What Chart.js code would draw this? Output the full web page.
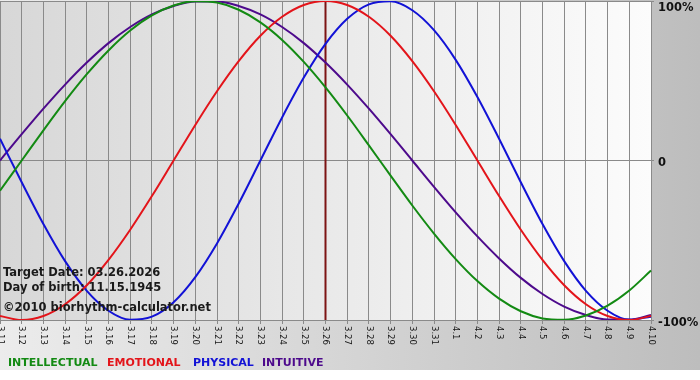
<!DOCTYPE html>
<html>
<head>
<meta charset="utf-8">
<script src="https://cdn.jsdelivr.net/npm/chart.js@4.4.1/dist/chart.umd.min.js"></script>
<style>
  html, body { margin: 0; padding: 0; background: #ffffff; }
  canvas { display: block; }
</style>
</head>
<body>
<canvas id="c" width="700" height="380"></canvas>
<script>
// ---- data ----
const labels = ['3.11','3.12','3.13','3.14','3.15','3.16','3.17','3.18','3.19','3.20',
                '3.21','3.22','3.23','3.24','3.25','3.26','3.27','3.28','3.29','3.30',
                '3.31','4.1','4.2','4.3','4.4','4.5','4.6','4.7','4.8','4.9','4.10'];
const intellectual = [-18.9,0,18.9,37.2,54.1,69.0,81.5,91.0,97.2,99.9,99.0,94.5,86.6,75.6,61.8,45.8,28.2,9.5,
                      -9.5,-28.2,-45.8,-61.8,-75.6,-86.6,-94.5,-99.0,-99.9,-97.2,-91.0,-81.5,-69.0];
const emotional    = [-97.5,-100,-97.5,-90.1,-78.2,-62.3,-43.4,-22.3,0,22.3,43.4,62.3,78.2,90.1,97.5,100,97.5,90.1,
                      78.2,62.3,43.4,22.3,0,-22.3,-43.4,-62.3,-78.2,-90.1,-97.5,-100,-97.5];
const physical     = [13.6,-13.6,-39.8,-63.1,-81.7,-94.2,-99.8,-97.9,-88.8,-73.1,-52.0,-27.0,0,27.0,52.0,73.1,88.8,97.9,
                      99.8,94.2,81.7,63.1,39.8,13.6,-13.6,-39.8,-63.1,-81.7,-94.2,-99.8,-97.9];
const intuitive    = [0,16.5,32.5,47.6,61.4,73.6,83.7,91.6,96.9,99.7,99.7,96.9,91.6,83.7,73.6,61.4,47.6,32.5,16.5,
                      0,-16.5,-32.5,-47.6,-61.4,-73.6,-83.7,-91.6,-96.9,-99.7,-99.7,-96.9];
const seriesNames  = ['INTELLECTUAL','EMOTIONAL','PHYSICAL','INTUITIVE'];
const yTicks       = [-100, 0, 100];
const targetLabel  = '3.26';
const targetDate   = '03.26.2026';
const birthDate    = '11.15.1945';
const copyright    = '\u00A92010 biorhythm-calculator.net';

// ---- styles ----
const colors = ['#138a13', '#e3141a', '#1212d6', '#4d0a8c'];
const legendX = [8, 107, 193, 262];

const decor = {
  id: 'decor',
  beforeDraw(chart) {
    const ctx = chart.ctx, a = chart.chartArea;
    ctx.save();
    let g = ctx.createLinearGradient(0, 0, chart.width, 0);
    g.addColorStop(0, '#ececec');
    g.addColorStop(1, '#bdbdbd');
    ctx.fillStyle = g;
    ctx.fillRect(0, 0, chart.width, 370);
    ctx.fillStyle = '#ffffff';
    ctx.fillRect(0, 370, chart.width, chart.height - 370);
    g = ctx.createLinearGradient(a.left, 0, a.right, 0);
    g.addColorStop(0, '#d7d7d7');
    g.addColorStop(1, '#fcfcfc');
    ctx.fillStyle = g;
    ctx.fillRect(a.left, a.top, a.right - a.left, a.bottom - a.top);
    ctx.restore();
  },
  beforeDatasetsDraw(chart) {
    const ctx = chart.ctx, a = chart.chartArea;
    const x = chart.scales.x.getPixelForValue(labels.indexOf(targetLabel));
    ctx.save();
    ctx.strokeStyle = '#7d1414';
    ctx.lineWidth = 2;
    ctx.beginPath();
    ctx.moveTo(x, a.top);
    ctx.lineTo(x, a.bottom);
    ctx.stroke();
    ctx.restore();
  },
  afterDraw(chart) {
    const ctx = chart.ctx, a = chart.chartArea;
    const xs = chart.scales.x, ys = chart.scales.y;
    ctx.save();
    // x tick labels, rotated clockwise
    ctx.fillStyle = '#151515';
    ctx.font = '8.5px "DejaVu Sans"';
    ctx.textAlign = 'left';
    ctx.textBaseline = 'middle';
    labels.forEach((l, i) => {
      const x = xs.getPixelForValue(i);
      ctx.save();
      ctx.translate(x, a.bottom + 6);
      ctx.rotate(Math.PI / 2);
      ctx.fillText(l, 0, 0);
      ctx.restore();
    });
    // right axis labels
    ctx.font = 'bold 11.5px "DejaVu Sans"';
    ctx.textBaseline = 'alphabetic';
    ctx.fillStyle = '#111111';
    yTicks.forEach(v => {
      const y = ys.getPixelForValue(v);
      const t = v === 0 ? '0' : v + '%';
      ctx.fillText(t, a.right + 7, Math.max(y + 5.5, 11));
    });
    // info texts
    ctx.fillStyle = '#1a1a1a';
    ctx.fillText('Target Date: ' + targetDate, 3, 276);
    ctx.fillText('Day of birth: ' + birthDate, 3, 291);
    ctx.fillText(copyright, 3, 311);
    // legend
    ctx.font = 'bold 11px "DejaVu Sans"';
    seriesNames.forEach((n, i) => {
      ctx.fillStyle = colors[i];
      ctx.fillText(n, legendX[i], 366);
    });
    ctx.restore();
  }
};

const mk = (i, data) => ({
  label: seriesNames[i],
  data: data,
  borderColor: colors[i],
  backgroundColor: colors[i],
  borderWidth: 2,
  pointRadius: 0,
  cubicInterpolationMode: 'monotone',
  fill: false
});

new Chart(document.getElementById('c'), {
  type: 'line',
  data: {
    labels: labels,
    datasets: [mk(0, intellectual), mk(1, emotional), mk(2, physical), mk(3, intuitive)]
  },
  options: {
    responsive: false,
    animation: false,
    devicePixelRatio: 1,
    layout: { padding: { top: 1, left: 0, right: 0, bottom: 0 } },
    plugins: { legend: { display: false }, tooltip: { enabled: false } },
    scales: {
      x: {
        type: 'category',
        offset: false,
        grid: { color: '#8a8a8a', lineWidth: 1, drawTicks: true, tickLength: 4 },
        border: { display: false },
        ticks: { display: false, autoSkip: false },
        afterFit(s) { s.height = 60; }
      },
      y: {
        position: 'right',
        min: -100,
        max: 100,
        grid: { color: '#8a8a8a', lineWidth: 1, drawTicks: true, tickLength: 3 },
        border: { display: false },
        ticks: { display: false },
        afterBuildTicks(s) { s.ticks = yTicks.map(v => ({ value: v })); },
        afterFit(s) { s.width = 49; }
      }
    }
  },
  plugins: [decor]
});
</script>
</body>
</html>
